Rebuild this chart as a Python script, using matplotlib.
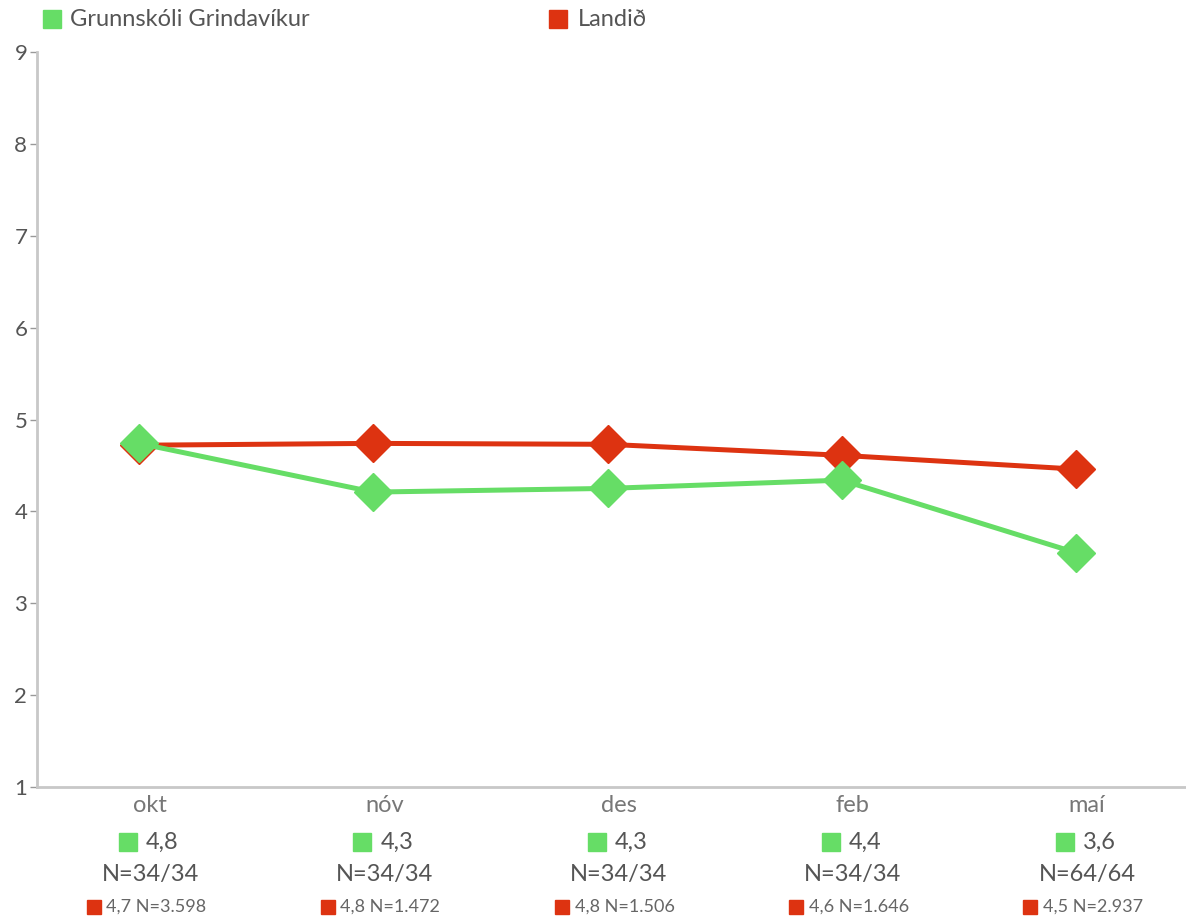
import matplotlib
matplotlib.use("Agg")
import matplotlib.pyplot as plt
import matplotlib.transforms as mtransforms

plt.rcParams['font.family'] = ['Lato', 'DejaVu Sans']

categories = ["okt", "nóv", "des", "feb", "maí"]
school_name = "Grunnskóli Grindavíkur"
national_name = "Landið"
school_values = [4.74, 4.21, 4.25, 4.34, 3.55]
national_values = [4.72, 4.74, 4.73, 4.61, 4.46]
school_labels = ["4,8", "4,3", "4,3", "4,4", "3,6"]
school_n = ["N=34/34", "N=34/34", "N=34/34", "N=34/34", "N=64/64"]
national_labels = ["4,7 N=3.598", "4,8 N=1.472", "4,8 N=1.506", "4,6 N=1.646", "4,5 N=2.937"]
yticks = [1, 2, 3, 4, 5, 6, 7, 8, 9]

GREEN = "#66dd66"
RED = "#dd3311"
TXT = "#555555"

fig = plt.figure(figsize=(11.86, 9.19), dpi=100)
ax = fig.add_axes([37/1186, 132/919, 1 - 37/1186, (787-52)/919])

x = list(range(len(categories)))
ax.plot(x, national_values, color=RED, lw=3.6, marker='D', markersize=19, zorder=3, clip_on=False)
ax.plot(x, school_values, color=GREEN, lw=3.6, marker='D', markersize=19, zorder=4, clip_on=False)

ax.set_xlim(-0.436, 4.47)
ax.set_ylim(1, 9)
ax.set_yticks(yticks)
ax.set_yticklabels([str(t) for t in yticks], fontsize=16, color=TXT)
ax.tick_params(axis='y', length=5, width=1, color="#999999", pad=2)
ax.set_xticks([])
for s in ['top', 'right']:
    ax.spines[s].set_visible(False)
for s in ['left', 'bottom']:
    ax.spines[s].set_color("#c8c8c8")
    ax.spines[s].set_linewidth(2)

trans = mtransforms.blended_transform_factory(ax.transData, ax.transAxes)

def off(dx, dy):
    return mtransforms.offset_copy(trans, fig=fig, x=dx, y=dy, units='dots')

for i, c in enumerate(categories):
    ax.text(i, 0, c, transform=off(11, -19), ha='center', va='center', fontsize=17, color="#777777")
    ax.plot([i], [0], marker='s', markersize=13, color=GREEN, transform=off(-11, -55), clip_on=False, lw=0)
    ax.text(i, 0, school_labels[i], transform=off(7, -55), ha='left', va='center', fontsize=17, color=TXT)
    ax.text(i, 0, school_n[i], transform=off(11, -88), ha='center', va='center', fontsize=17, color=TXT)
    ax.plot([i], [0], marker='s', markersize=10, color=RED, transform=off(-45.5, -120), clip_on=False, lw=0)
    ax.text(i, 0, national_labels[i], transform=off(-33, -120), ha='left', va='center', fontsize=13, color="#666666")

# legend
fig.patches.append(plt.Rectangle((43/1186, 1 - 28/919), 18/1186, 18/919, transform=fig.transFigure, color=GREEN))
fig.text(70/1186, 1 - 19/919, school_name, ha='left', va='center', fontsize=17, color=TXT)
fig.patches.append(plt.Rectangle((549/1186, 1 - 28/919), 18/1186, 18/919, transform=fig.transFigure, color=RED))
fig.text(578/1186, 1 - 19/919, national_name, ha='left', va='center', fontsize=17, color=TXT)

fig.savefig("out.png", dpi=100)
